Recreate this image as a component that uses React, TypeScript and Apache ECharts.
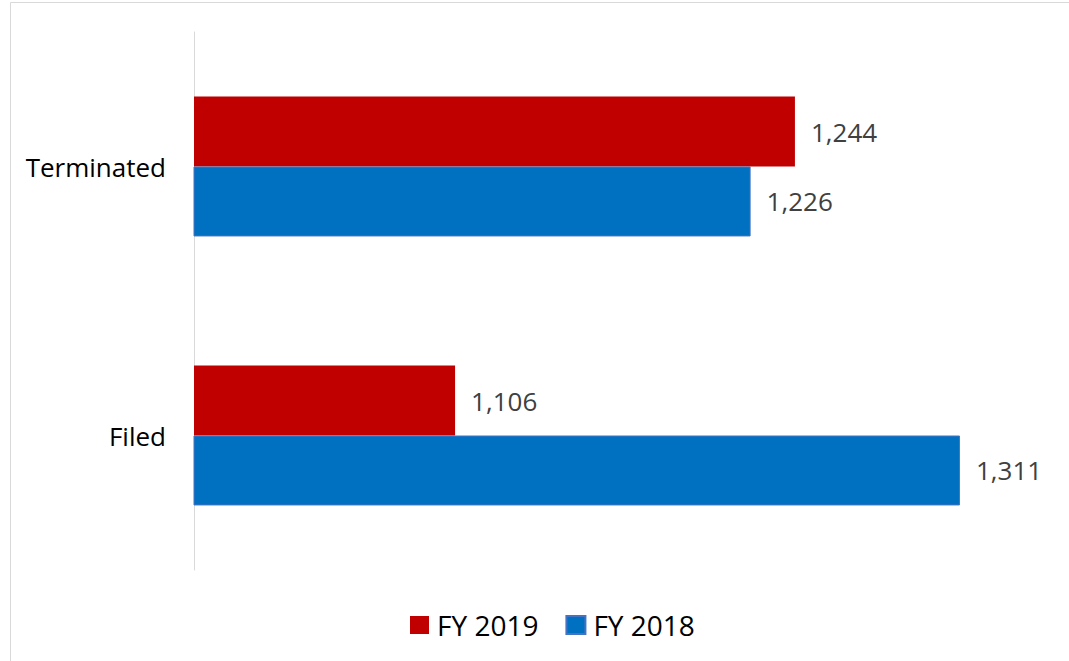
import React, { useEffect, useRef } from "react";
import * as echarts from "echarts";

const categories = ["Filed", "Terminated"];
const fy2019 = [1106, 1244];
const fy2018 = [1311, 1226];
const seriesNames = ["FY 2019", "FY 2018"];

export default function App() {
  const ref = useRef<HTMLDivElement>(null);
  useEffect(() => {
    const chart = echarts.init(ref.current!, null, { renderer: "svg" });
    const font = "'Open Sans', sans-serif";
    const label = {
      show: true,
      position: "right",
      distance: 16,
      color: "#404040",
      fontSize: 26,
      fontFamily: font,
      formatter: (p: any) => p.value.toLocaleString("en-US"),
    };
    chart.setOption({
      animation: false,
      backgroundColor: "#fff",
      graphic: [
        {
          type: "rect",
          shape: { x: 10.5, y: 2.5, width: 1100, height: 700 },
          style: { fill: "none", stroke: "#d9d9d9", lineWidth: 1 },
          silent: true,
        },
      ],
      grid: { left: 194, right: 13, top: 32, bottom: 91 },
      legend: {
        data: seriesNames,
        top: 606,
        left: 405,
        padding: 5,
        itemWidth: 19,
        itemHeight: 18,
        itemGap: 27,
        icon: "rect",
        textStyle: {
          fontSize: 28,
          fontFamily: font,
          color: "#000",
          padding: [0, 0, 0, 3],
        },
      },
      xAxis: {
        type: "value",
        min: 1000,
        max: 1350,
        show: false,
        splitLine: { show: false },
      },
      yAxis: {
        type: "category",
        data: categories,
        axisLine: { show: true, lineStyle: { color: "#d9d9d9", width: 1 } },
        axisTick: { show: false },
        axisLabel: { fontSize: 26, fontFamily: font, color: "#000", margin: 28 },
      },
      series: [
        {
          name: seriesNames[0],
          type: "bar",
          data: fy2019,
          barGap: "0%",
          barCategoryGap: "48%",
          itemStyle: { color: "#C00000" },
          label,
        },
        {
          name: seriesNames[1],
          type: "bar",
          data: fy2018,
          barGap: "0%",
          barCategoryGap: "48%",
          itemStyle: { color: "#0070C0", borderColor: "#4472C4", borderWidth: 1 },
          label,
        },
      ],
    });
    return () => chart.dispose();
  }, []);
  return (
    <div
      ref={ref}
      style={{ position: "absolute", left: 0, top: 0, width: 1069, height: 661 }}
    />
  );
}
